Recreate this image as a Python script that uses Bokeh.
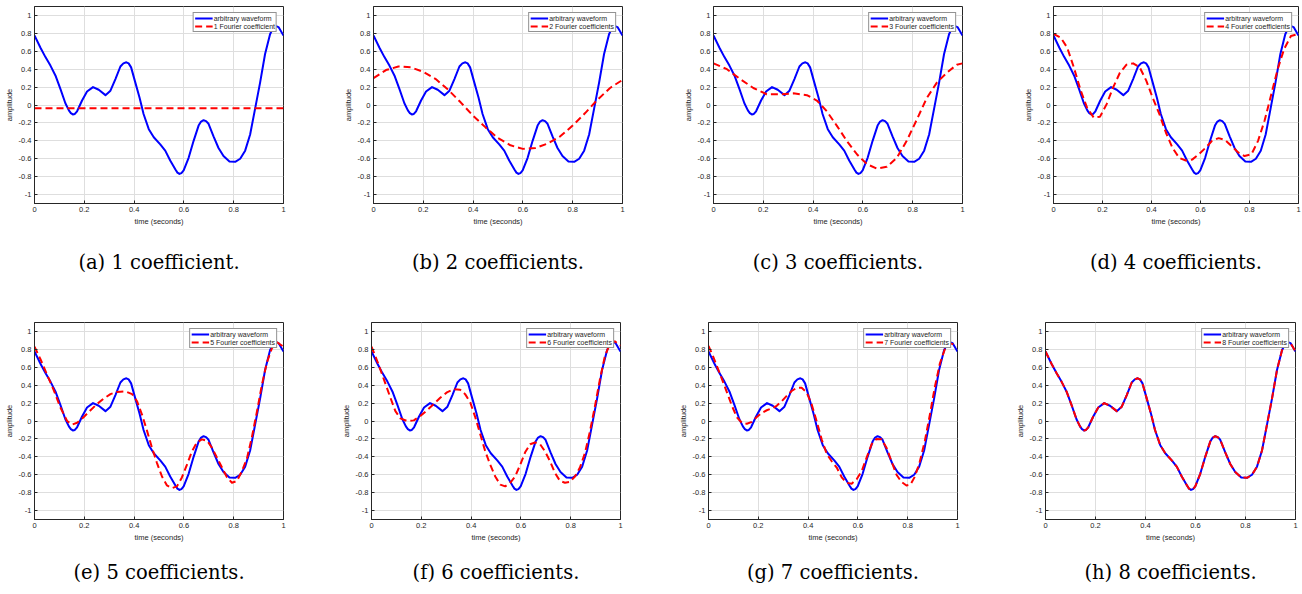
from bokeh.plotting import figure
from bokeh.layouts import column, row
from bokeh.models import FixedTicker, Legend, LegendItem, Range1d, Title
from bokeh.embed import file_html
from bokeh.resources import INLINE

# ---------------- data ----------------
t_wave = [0.0, 0.024, 0.044, 0.064, 0.084, 0.104, 0.124, 0.138, 0.146, 0.154, 0.162, 0.171,
          0.191, 0.211, 0.235, 0.258, 0.285, 0.305, 0.325, 0.345, 0.357, 0.369, 0.378,
          0.388, 0.405, 0.422, 0.438, 0.459, 0.479, 0.505, 0.525, 0.545, 0.566, 0.574,
          0.582, 0.59, 0.599, 0.619, 0.639, 0.659, 0.669, 0.679, 0.689, 0.699, 0.719,
          0.739, 0.759, 0.783, 0.806, 0.826, 0.846, 0.866, 0.886, 0.906, 0.926, 0.946,
          0.963, 0.98, 1.0]
amp_wave = [0.776, 0.64, 0.535, 0.44, 0.33, 0.18, 0.02, -0.06, -0.09, -0.105, -0.10, -0.07,
            0.05, 0.15, 0.20, 0.17, 0.11, 0.16, 0.29, 0.43, 0.465, 0.477, 0.465,
            0.42, 0.25, 0.08, -0.10, -0.27, -0.36, -0.44, -0.51, -0.62, -0.72, -0.755,
            -0.77, -0.76, -0.73, -0.59, -0.40, -0.23, -0.185, -0.17, -0.18, -0.21, -0.35,
            -0.48, -0.57, -0.63, -0.635, -0.60, -0.51, -0.33, -0.04, 0.25, 0.57, 0.79,
            0.89, 0.87, 0.776]

t_c1 = [0.0, 1.0]
amp_c1 = [-0.035, -0.035]

t_c2 = [0.0, 0.05, 0.1, 0.15, 0.2, 0.25, 0.3, 0.35, 0.4, 0.45, 0.5, 0.55, 0.6, 0.65,
        0.7, 0.75, 0.8, 0.85, 0.9, 0.95, 1.0]
amp_c2 = [0.30, 0.39, 0.43, 0.42, 0.37, 0.29, 0.17, 0.03, -0.12, -0.25, -0.37, -0.45,
          -0.49, -0.48, -0.43, -0.35, -0.23, -0.09, 0.06, 0.19, 0.28]

t_c3 = [0.0, 0.054, 0.107, 0.16, 0.214, 0.268, 0.321, 0.375, 0.415, 0.455, 0.495, 0.535,
        0.576, 0.616, 0.656, 0.696, 0.736, 0.776, 0.817, 0.857, 0.897, 0.937, 0.977, 1.0]
amp_c3 = [0.465, 0.40, 0.29, 0.19, 0.12, 0.12, 0.13, 0.11, 0.05, -0.07, -0.23, -0.40,
          -0.55, -0.66, -0.71, -0.69, -0.59, -0.40, -0.16, 0.08, 0.25, 0.36, 0.45, 0.465]

t_c4 = [0.0, 0.03, 0.056, 0.083, 0.11, 0.137, 0.164, 0.19, 0.217, 0.244, 0.271, 0.298,
        0.325, 0.352, 0.379, 0.405, 0.432, 0.459, 0.486, 0.513, 0.54, 0.566, 0.593, 0.62,
        0.647, 0.674, 0.70, 0.727, 0.754, 0.78, 0.808, 0.835, 0.862, 0.889, 0.915, 0.942,
        0.969, 1.0]
amp_c4 = [0.795, 0.75, 0.64, 0.42, 0.17, -0.03, -0.14, -0.13, 0.01, 0.20, 0.36, 0.45,
          0.465, 0.42, 0.27, 0.08, -0.10, -0.31, -0.48, -0.59, -0.62, -0.61, -0.55, -0.48,
          -0.40, -0.37, -0.39, -0.46, -0.53, -0.57, -0.55, -0.40, -0.17, 0.12, 0.40, 0.63,
          0.77, 0.795]

t_c5 = [0.0, 0.024, 0.05, 0.078, 0.104, 0.131, 0.151, 0.171, 0.198, 0.225, 0.251, 0.278,
        0.305, 0.332, 0.365, 0.392, 0.412, 0.432, 0.452, 0.472, 0.492, 0.512, 0.532, 0.552,
        0.572, 0.592, 0.612, 0.632, 0.652, 0.672, 0.693, 0.713, 0.733, 0.753, 0.773, 0.793,
        0.813, 0.833, 0.853, 0.873, 0.893, 0.913, 0.933, 0.953, 0.973, 1.0]
amp_c5 = [0.83, 0.69, 0.52, 0.34, 0.15, 0.0, -0.04, -0.02, 0.045, 0.12, 0.19, 0.25,
          0.30, 0.325, 0.33, 0.30, 0.22, 0.07, -0.11, -0.30, -0.47, -0.62, -0.72, -0.75,
          -0.73, -0.63, -0.49, -0.34, -0.24, -0.205, -0.22, -0.30, -0.41, -0.52, -0.63, -0.69,
          -0.67, -0.56, -0.42, -0.18, 0.10, 0.40, 0.65, 0.81, 0.88, 0.83]

t_c6 = [0.0, 0.023, 0.049, 0.076, 0.096, 0.116, 0.143, 0.17, 0.196, 0.223, 0.25, 0.276,
        0.303, 0.33, 0.356, 0.376, 0.397, 0.417, 0.437, 0.457, 0.477, 0.497, 0.517, 0.537,
        0.557, 0.577, 0.597, 0.617, 0.637, 0.657, 0.677, 0.697, 0.717, 0.737, 0.757, 0.777,
        0.797, 0.817, 0.837, 0.857, 0.877, 0.897, 0.917, 0.937, 0.957, 0.977, 1.0]
amp_c6 = [0.83, 0.67, 0.47, 0.26, 0.11, 0.03, 0.0, 0.007, 0.056, 0.12, 0.19, 0.26,
          0.32, 0.355, 0.35, 0.30, 0.205, 0.04, -0.15, -0.34, -0.49, -0.62, -0.71, -0.73,
          -0.69, -0.62, -0.49, -0.35, -0.26, -0.24, -0.26, -0.34, -0.45, -0.58, -0.67, -0.69,
          -0.68, -0.62, -0.52, -0.36, -0.12, 0.16, 0.46, 0.72, 0.86, 0.89, 0.84]

t_c7 = [0.0, 0.02, 0.047, 0.074, 0.094, 0.114, 0.134, 0.154, 0.174, 0.194, 0.214, 0.234,
        0.254, 0.274, 0.294, 0.314, 0.334, 0.354, 0.374, 0.394, 0.414, 0.434, 0.455, 0.475,
        0.495, 0.515, 0.535, 0.555, 0.575, 0.595, 0.615, 0.635, 0.655, 0.675, 0.695, 0.715,
        0.735, 0.755, 0.775, 0.795, 0.811, 0.829, 0.849, 0.869, 0.889, 0.909, 0.929, 0.949,
        0.969, 1.0]
amp_c7 = [0.84, 0.71, 0.52, 0.32, 0.17, 0.04, -0.02, -0.03, -0.01, 0.045, 0.09, 0.12,
          0.14, 0.17, 0.22, 0.28, 0.335, 0.37, 0.37, 0.32, 0.19, 0.0, -0.21, -0.37,
          -0.45, -0.52, -0.63, -0.69, -0.70, -0.65, -0.56, -0.41, -0.26, -0.20, -0.205, -0.30,
          -0.45, -0.60, -0.68, -0.72, -0.71, -0.62, -0.45, -0.22, 0.07, 0.38, 0.64, 0.80,
          0.87, 0.84]

# the 8-coefficient reconstruction coincides with the waveform
t_c8 = t_wave
amp_c8 = amp_wave

captions = ["(a) 1 coefficient.", "(b) 2 coefficients.", "(c) 3 coefficients.",
            "(d) 4 coefficients.", "(e) 5 coefficients.", "(f) 6 coefficients.",
            "(g) 7 coefficients.", "(h) 8 coefficients."]
legend_labels = ["1 Fourier coefficient", "2 Fourier coefficients", "3 Fourier coefficients",
                 "4 Fourier coefficients", "5 Fourier coefficients", "6 Fourier coefficients",
                 "7 Fourier coefficients", "8 Fourier coefficients"]
wave_label = "arbitrary waveform"

x_ticks = [0, 0.2, 0.4, 0.6, 0.8, 1]
x_tick_labels = ["0", "0.2", "0.4", "0.6", "0.8", "1"]
y_ticks = [-1, -0.8, -0.6, -0.4, -0.2, 0, 0.2, 0.4, 0.6, 0.8, 1]
y_tick_labels = ["-1", "-0.8", "-0.6", "-0.4", "-0.2", "0", "0.2", "0.4", "0.6", "0.8", "1"]

approx_t = [t_c1, t_c2, t_c3, t_c4, t_c5, t_c6, t_c7, t_c8]
approx_amp = [amp_c1, amp_c2, amp_c3, amp_c4, amp_c5, amp_c6, amp_c7, amp_c8]

# ---------------- styling ----------------
FONT = "Liberation Sans"
SERIF = "DejaVu Serif"
INK = "#262626"
GRID = "#dedede"
FRAME_H = 197
LEFT = 34


def style_axis(ax, ticks, labels, label):
    ax.ticker = FixedTicker(ticks=ticks)
    ax.major_label_overrides = dict(zip(ticks, labels))
    ax.axis_label = label
    ax.axis_label_text_font = FONT
    ax.axis_label_text_font_size = "7.5px"
    ax.axis_label_text_font_style = "normal"
    ax.axis_label_text_color = INK
    ax.axis_label_standoff = 2
    ax.major_label_text_font = FONT
    ax.major_label_text_font_size = "7.5px"
    ax.major_label_text_color = INK
    ax.major_label_standoff = 3
    ax.major_tick_in = 3
    ax.major_tick_out = 0
    ax.major_tick_line_color = INK
    ax.minor_tick_line_color = None
    ax.axis_line_color = INK


def panel(k, frame_w, b_right, b_top, b_bottom, cap_standoff):
    p = figure(frame_width=frame_w, frame_height=FRAME_H,
               x_range=Range1d(0, 1), y_range=Range1d(-1.1, 1.1),
               output_backend="svg", toolbar_location=None, tools="",
               min_border_left=LEFT, min_border_right=b_right,
               min_border_top=b_top, min_border_bottom=b_bottom,
               background_fill_color="white", border_fill_color="white")
    p.outline_line_color = INK
    p.outline_line_width = 1
    p.outline_line_alpha = 1
    p.xgrid.ticker = FixedTicker(ticks=x_ticks)
    p.ygrid.ticker = FixedTicker(ticks=y_ticks)
    for g in (p.xgrid, p.ygrid):
        g.grid_line_color = GRID
        g.grid_line_width = 1
    style_axis(p.xaxis[0], x_ticks, x_tick_labels, "time (seconds)")
    style_axis(p.yaxis[0], y_ticks, y_tick_labels, "amplitude")

    r1 = p.line(t_wave, amp_wave, line_color="#0000ff", line_width=2, line_join="round")
    r2 = p.line(approx_t[k], approx_amp[k], line_color="#ff0000", line_width=2,
                line_dash="7 4", line_join="round")
    leg = Legend(items=[LegendItem(label=wave_label, renderers=[r1]),
                        LegendItem(label=legend_labels[k], renderers=[r2])],
                 location="top_right", margin=6, padding=1, spacing=0,
                 glyph_width=18, glyph_height=8, label_height=8, label_standoff=1,
                 label_text_font=FONT, label_text_font_size="7px", label_text_color=INK,
                 border_line_color=INK, border_line_width=1,
                 background_fill_color="white", background_fill_alpha=1)
    p.add_layout(leg)
    p.add_layout(Title(text=captions[k], align="center", text_font=SERIF,
                       text_font_size="19.5px", text_font_style="normal",
                       text_color="black", standoff=cap_standoff, offset=-5), "below")
    return p


row1_frames = [249, 249, 249, 245]
row1_right = [56, 57, 57, 4]
row2_frames = [249, 249, 249, 250]
row2_right = [54, 54, 54, 7]

figs1 = [panel(i, row1_frames[i], row1_right[i], 6, 111, 40) for i in range(4)]
figs2 = [panel(4 + i, row2_frames[i], row2_right[i], 8, 70, 28) for i in range(4)]

layout = column(row(*figs1), row(*figs2))

with open("out.html", "w") as f:
    f.write(file_html(layout, INLINE))
